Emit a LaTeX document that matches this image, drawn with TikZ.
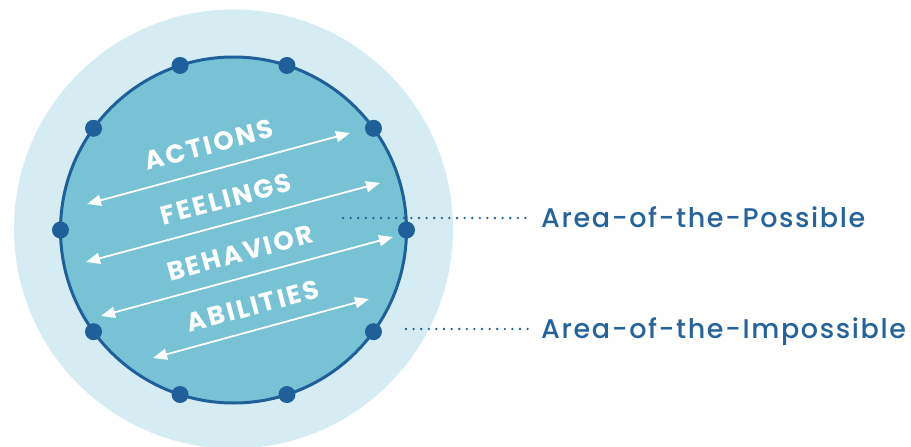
\documentclass[tikz,border=0pt]{standalone}
\usepackage{fontspec}
\setmainfont{Poppins}
\newfontfamily\wordfont[LetterSpace=9]{Poppins}
\newfontfamily\areafont[LetterSpace=6]{Poppins Medium}
\usetikzlibrary{arrows.meta}
\definecolor{haze}{HTML}{D5ECF2}
\definecolor{pool}{HTML}{77C3D5}
\definecolor{navy}{HTML}{20609A}
\definecolor{inknavy}{HTML}{25639A}
\begin{document}
\begin{tikzpicture}[x=1pt,y=-1pt,
  ring/.style={circle,inner sep=0pt,outer sep=0pt},
  rimdot/.style={circle,fill=navy,inner sep=0pt,minimum size=17pt},
  twoway/.style={draw=white,line width=1.8pt,{Triangle[length=14pt,width=11pt]}-{Triangle[length=14pt,width=11pt]}},
  word/.style={text=white,font=\wordfont\bfseries\fontsize{26}{26}\selectfont,rotate=15,inner sep=0pt},
  area/.style={text=inknavy,font=\areafont\fontsize{27}{27}\selectfont,inner sep=0pt,anchor=base west},
  leader/.style={draw=navy,line width=2.6pt,line cap=round,dash pattern=on 0pt off 7.6pt}]
  \useasboundingbox (0,0) rectangle (911,447);
  % outer zone and inner zone
  \node[ring,fill=haze,minimum size=439pt] (outer) at (233.5,229) {};
  \node[ring,fill=pool,draw=navy,line width=3pt,minimum size=346pt] (inner) at (233.5,230) {};
  % ten dots around the rim
  \foreach \a in {0,36,...,324}{
    \node[rimdot] (dot\a) at (inner.\a) {};
  }
  % double arrows
  \coordinate (aL) at (87,204);  \coordinate (aR) at (350,133);
  \coordinate (fL) at (86,262);  \coordinate (fR) at (380,183);
  \coordinate (bL) at (101,316); \coordinate (bR) at (393,237);
  \coordinate (iL) at (153,358); \coordinate (iR) at (369,299);
  \draw[twoway] (aL) -- (aR);
  \draw[twoway] (fL) -- (fR);
  \draw[twoway] (bL) -- (bR);
  \draw[twoway] (iL) -- (iR);
  % words between the arrows
  \node[word] (actions) at (209,145) {ACTIONS};
  \node[word] (feelings) at (226,199) {FEELINGS};
  \node[word] (behavior) at (240,253) {BEHAVIOR};
  \node[word] (abilities) at (253,306) {ABILITIES};
  % labels with dotted leaders
  \node[area] (possible) at (541,227) {Area-of-the-Possible};
  \node[area] (impossible) at (541,338) {Area-of-the-Impossible};
  \coordinate (pStart) at (343,218);
  \coordinate (iStart) at (406,329);
  \draw[leader] (pStart) -- ([xshift=-9pt]pStart -| possible.west);
  \draw[leader] (iStart) -- ([xshift=-9pt]iStart -| impossible.west);
\end{tikzpicture}
\end{document}
